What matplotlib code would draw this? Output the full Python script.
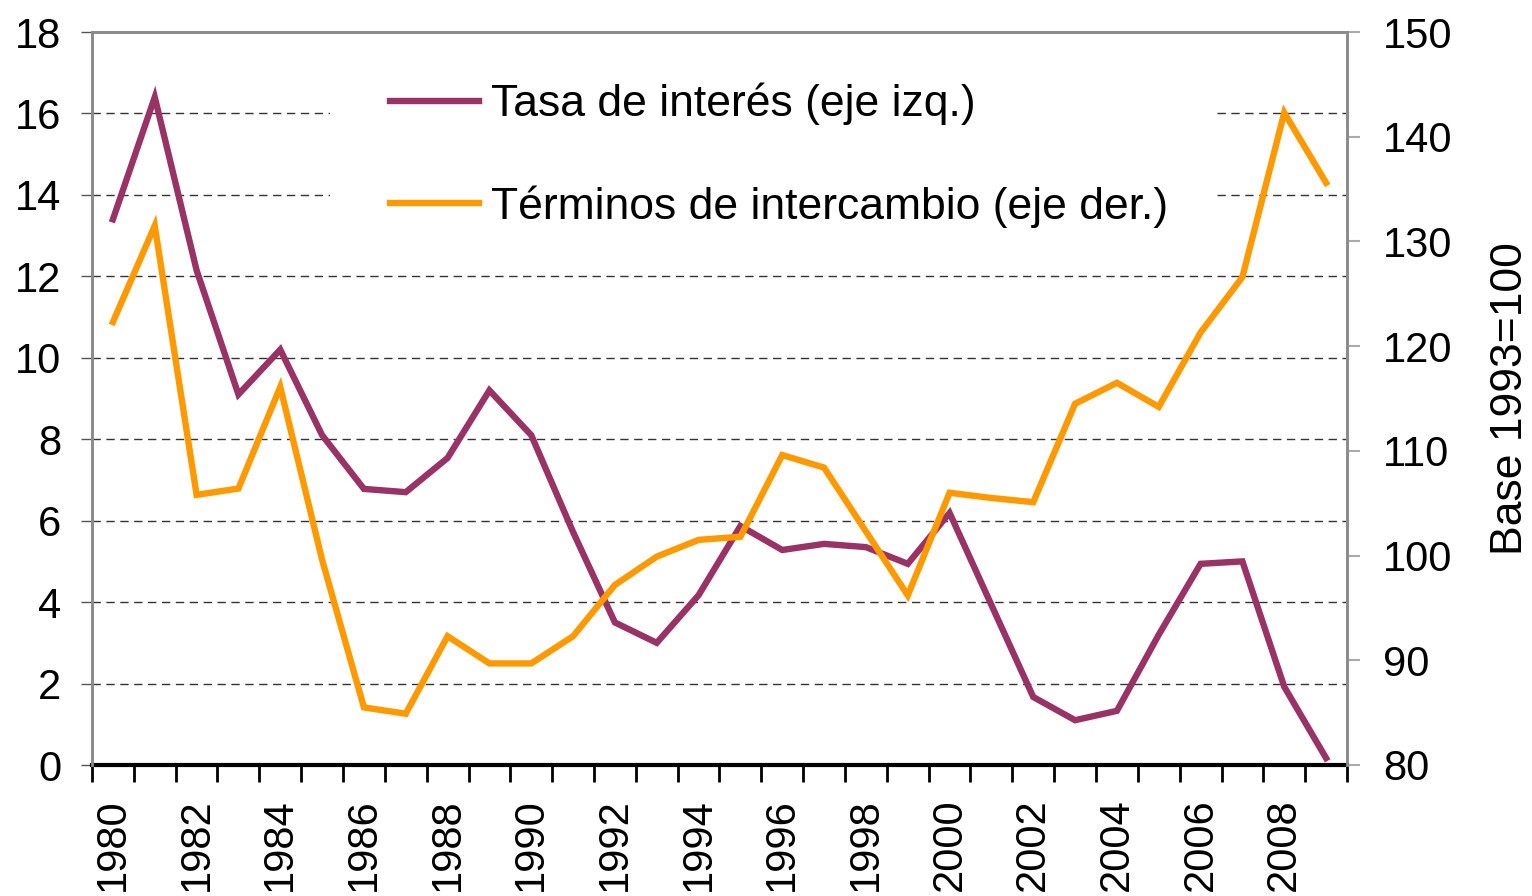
import numpy as np
import matplotlib
matplotlib.use('Agg')
import matplotlib.pyplot as plt
from matplotlib.patches import Rectangle
from matplotlib.lines import Line2D

plt.rcParams['font.family'] = ['Liberation Sans', 'DejaVu Sans']

# data
years = list(range(1980, 2010))
tasa_interes = [13.4, 16.4, 12.15, 9.1, 10.2, 8.1, 6.78, 6.7, 7.54, 9.2,
                8.1, 5.72, 3.5, 3.0, 4.17, 5.87, 5.28, 5.43, 5.35, 4.94,
                6.19, 3.93, 1.67, 1.1, 1.33, 3.2, 4.94, 5.0, 1.92, 0.17]
terminos = [122.3, 131.5, 105.8, 106.4, 116.1, 99.6, 85.5, 84.9, 92.3, 89.7,
            89.7, 92.3, 97.2, 99.9, 101.5, 101.8, 109.6, 108.4, 102.3, 96.2,
            106.0, 105.5, 105.1, 114.5, 116.5, 114.2, 121.3, 126.6, 142.3, 135.6]
left_ticks = list(range(0, 19, 2))
right_ticks = list(range(80, 151, 10))
label_tasa = 'Tasa de interés (eje izq.)'
label_term = 'Términos de intercambio (eje der.)'

purple = '#993366'
orange = '#FF9900'
gray = '#8c8c8c'

fig = plt.figure(figsize=(15.32, 8.96), dpi=100)
ax = fig.add_axes([92 / 1532, 1 - 765 / 896, (1347 - 92) / 1532, (765 - 32) / 896])
ax2 = ax.twinx()

x = np.arange(len(years))
ax.plot(x, tasa_interes, color=purple, lw=4.6, solid_joinstyle='miter', zorder=3)
ax2.plot(x, terminos, color=orange, lw=4.6, solid_joinstyle='miter', zorder=3)

ax.set_xlim(-0.5, len(years) - 0.5)
ax.set_ylim(0, 18)
ax2.set_ylim(80, 150)
ax.set_yticks(left_ticks)
ax2.set_yticks(right_ticks)

# grid on left axis, dashed
ax.set_axisbelow(True)
ax.grid(axis='y', color='#333333', linestyle=(0, (6, 4)), linewidth=1.0)
ax.grid(axis='x', visible=False)

# white block behind the legend hides the gridlines
ax.add_patch(Rectangle((0.19, 0.70), 0.703, 0.27, transform=ax.transAxes,
                       facecolor='white', edgecolor='none', zorder=1))

# x ticks: labels every other year at category centers, tick marks between categories
ax.set_xticks(x[::2])
ax.set_xticklabels([str(y) for y in years[::2]], rotation=90, fontsize=30)
ax.set_xticks(np.arange(-0.5, len(years), 1), minor=True)
ax.tick_params(axis='x', which='major', length=0, pad=24)
ax.tick_params(axis='x', which='minor', length=12, width=2, color='black', direction='out')

ax.tick_params(axis='y', labelsize=30, length=8, width=1, color='#555555', pad=14)
ax2.tick_params(axis='y', labelsize=30, length=9, width=1.5, color='#aaaaaa', pad=17)

for sp in ['left', 'top', 'right']:
    ax.spines[sp].set_color(gray)
    ax.spines[sp].set_linewidth(2)
    ax2.spines[sp].set_color(gray)
    ax2.spines[sp].set_linewidth(2)
ax.spines['bottom'].set_color('black')
ax.spines['bottom'].set_linewidth(3)
ax2.spines['bottom'].set_visible(False)

ax2.set_ylabel('Base 1993=100', fontsize=32, labelpad=27)

handles = [Line2D([], [], color=purple, lw=4.6), Line2D([], [], color=orange, lw=4.6)]
ax2.legend(handles, [label_tasa, label_term], loc='upper left',
           bbox_to_anchor=(0.2375, 0.931), frameon=False, fontsize=32,
           handlelength=2.0, handletextpad=0.27, labelspacing=1.36,
           borderaxespad=0, borderpad=0)

fig.savefig('out.png', dpi=100)
